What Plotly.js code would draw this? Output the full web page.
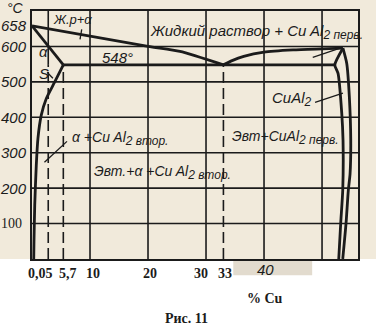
<!DOCTYPE html>
<html>
<head>
<meta charset="utf-8">
<script src="https://cdn.plot.ly/plotly-3.0.1.min.js"></script>
<style>html,body{margin:0;padding:0;background:#fff;}#chart{width:376px;height:335px;}</style>
</head>
<body>
<div id="chart"></div>
<script>
// ---- data ----
const gridX = [10, 20, 30, 40, 50];
const gridY = [100, 200, 300, 400, 500, 600];

const liquidusAlX = [0, 20, 25.5, 33];
const liquidusAlY = [658, 600, 586, 548];

const liquidusCuAl2X = [33, 34.5, 36.5, 40, 45, 50, 53.6];
const liquidusCuAl2Y = [548, 560, 572, 584, 590, 593, 595];

const solidusX = [0, 5.4];
const solidusY = [658, 548];

const eutecticX = [5.4, 52.2];
const eutecticY = [548, 548];

const solvusAlphaX = [5.4, 3.9, 2.47, 1.6, 1.03, 0.74, 0.47, 0.34, 0.3];
const solvusAlphaY = [548, 499, 453, 406, 341, 265, 152, 48, 0];

const thetaInnerX = [53.6, 52.2, 52.76, 53.4, 53.62, 53.57, 53.22, 52.88];
const thetaInnerY = [595, 548, 524, 411, 335, 194, 101, 0];

const thetaOuterX = [53.6, 54.26, 54.71, 54.95, 54.83, 54.53, 54.14, 53.57];
const thetaOuterY = [595, 552, 457, 335, 240, 194, 101, 0];

const dashedX = [2.8, 5.4, 33];
const dashedTop = [548, 548, 548];

const xTickPos = [1.4, 6.2, 10.6, 20.3, 29.2, 33.3, 40.3];
const xTickText = ['0,05', '5,7', '10', '20', '30', '33', '40'];

const yTickVals = [100, 200, 300, 400, 500, 600, 658];
const yTickText = ['100', '200', '300', '400', '500', '600', '658'];

// ---- drawing ----
const ink = '#1b1b1b';
const lw = 2.8;
function line(x, y, w, dash) {
  return {x: x, y: y, type: 'scatter', mode: 'lines', hoverinfo: 'skip',
          line: {color: ink, width: w || lw, dash: dash || 'solid', shape: 'spline', smoothing: 0.6}};
}
const traces = [
  line(liquidusAlX, liquidusAlY),
  line(liquidusCuAl2X, liquidusCuAl2Y),
  line(solidusX, solidusY),
  line(eutecticX, eutecticY),
  line(solvusAlphaX, solvusAlphaY),
  line(thetaInnerX, thetaInnerY),
  line(thetaOuterX, thetaOuterY)
];
dashedX.forEach(function (xv, i) {
  traces.push(line([xv, xv], [0, dashedTop[i]], 1.6, '11px,5px'));
});
traces.push(line([dashedX[0], dashedX[0]], [548, 700], 1.6));

const shapes = [];
shapes.push({type: 'rect', xref: 'paper', yref: 'paper', x0: -0.1, x1: 1.06, y0: 0, y1: 1.05,
             fillcolor: '#f1eadb', line: {width: 0}, layer: 'below'});
gridX.forEach(function (g) {
  shapes.push({type: 'line', xref: 'x', yref: 'y', x0: g, x1: g, y0: 0, y1: 700,
               line: {color: ink, width: 1.6}, layer: 'below'});
});
gridY.forEach(function (g) {
  shapes.push({type: 'line', xref: 'x', yref: 'y', x0: 0, x1: 56.2, y0: g, y1: g,
               line: {color: ink, width: 1.6}, layer: 'below'});
});
shapes.push({type: 'rect', xref: 'x', yref: 'paper', x0: 34.7, x1: 48.3, y0: -0.066, y1: -0.004,
             fillcolor: '#e2dbce', line: {width: 0}, layer: 'below'});

const hand = 'Liberation Sans, Arial, sans-serif';
const serif = 'Liberation Serif, Times New Roman, serif';
const annotations = [];

yTickVals.forEach(function (v, i) {
  const regular = yTickText[i] === '100';
  annotations.push({xref: 'paper', yref: 'y', x: 0, y: v, xanchor: 'right', yanchor: 'middle',
    xshift: regular ? -8 : -3, text: regular ? yTickText[i] : '<i>' + yTickText[i] + '</i>', showarrow: false,
    font: {family: regular ? serif : hand, size: regular ? 14 : 15, color: ink}});
});
annotations.push({xref: 'paper', yref: 'paper', x: 0, y: 1, xanchor: 'right', yanchor: 'middle',
  xshift: -6, yshift: 3, text: '<i>°C</i>', showarrow: false, font: {family: hand, size: 14, color: ink}});

xTickPos.forEach(function (p, i) {
  const it = xTickText[i] === '40';
  annotations.push({xref: 'x', yref: 'paper', x: p, y: 0, xanchor: 'center', yanchor: 'middle',
    yshift: it ? -10 : -14, text: it ? '<i>' + xTickText[i] + '</i>' : '<b>' + xTickText[i] + '</b>', showarrow: false,
    font: {family: it ? hand : serif, size: it ? 15 : 14, color: ink}});
});
annotations.push({xref: 'x', yref: 'paper', x: 40.2, y: 0, yshift: -39, yanchor: 'middle',
  text: '<b>% Cu</b>', showarrow: false, font: {family: serif, size: 14, color: ink}});
annotations.push({xref: 'x', yref: 'paper', x: 26.6, y: 0, yshift: -59, yanchor: 'middle',
  text: '<b>Рис. 11</b>', showarrow: false, font: {family: serif, size: 14, color: ink}});

function sub(t, px) {
  return '<sub><span style="font-size:' + px + 'px">' + t + '</span></sub>';
}
function lab(x, y, t, size) {
  annotations.push({xref: 'x', yref: 'y', x: x, y: y, xanchor: 'left', yanchor: 'middle',
    text: '<i>' + t + '</i>', showarrow: false, font: {family: hand, size: size || 14, color: ink}});
}
lab(3.3, 675, 'Ж.р+α', 13);
lab(20.0, 640, 'Жидкий раствор + Cu Al' + sub('2 перв.', 12), 15);
lab(11.7, 570, '548°', 15);
lab(0.9, 585, 'α', 15);
lab(0.9, 524, 'S', 15);
lab(6.6, 341, 'α +Cu Al' + sub('2 втор.', 12), 14);
lab(10.3, 245, 'Эвт.+α +Cu Al' + sub('2 втор.', 12), 14);
lab(41.0, 451, 'CuAl' + sub('2', 12), 15);
lab(34.1, 344, 'Эвт+CuAl' + sub('2 перв.', 12), 14);

const leadersX = [[8.57, 8.28], [2.6, 3.6], [2.15, 6.03], [48.8, 53.6], [48.4, 53.5]];
const leadersY = [[648, 620], [527, 510], [273, 332], [442, 468], [569, 597]];
leadersX.forEach(function (lx, i) {
  traces.push({x: lx, y: leadersY[i], type: 'scatter', mode: 'lines', hoverinfo: 'skip',
               line: {color: ink, width: 1.3}});
});

const layout = {
  width: 376, height: 335,
  margin: {l: 32, r: 18, t: 11, b: 76},
  paper_bgcolor: '#ffffff',
  plot_bgcolor: 'rgba(0,0,0,0)',
  showlegend: false,
  xaxis: {range: [0, 56.2], showgrid: false, zeroline: false, showticklabels: false, ticks: '',
          showline: true, mirror: true, linecolor: ink, linewidth: 2, fixedrange: true},
  yaxis: {range: [0, 700], showgrid: false, zeroline: false, showticklabels: false, ticks: '',
          showline: true, mirror: true, linecolor: ink, linewidth: 2, fixedrange: true},
  shapes: shapes,
  annotations: annotations
};
Plotly.newPlot('chart', traces, layout, {staticPlot: true, displayModeBar: false});
</script>
</body>
</html>
